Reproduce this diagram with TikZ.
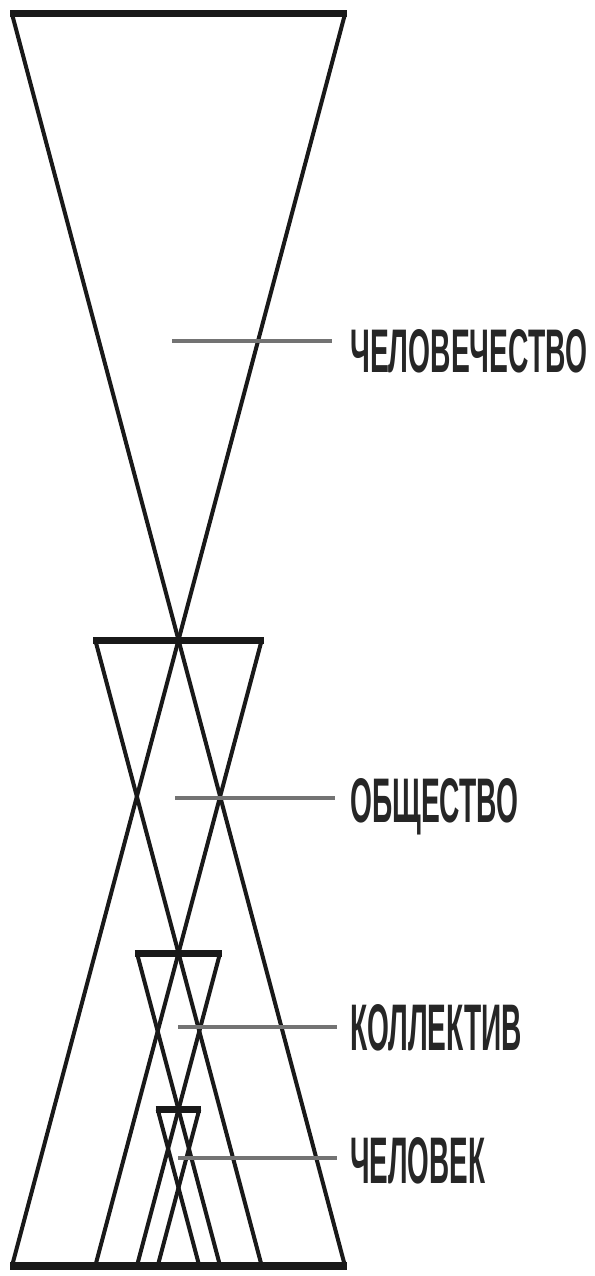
\documentclass[tikz,border=0pt]{standalone}
\usepackage{fontspec}
\setmainfont{Liberation Sans}
\begin{document}
\begin{tikzpicture}[x=1pt,y=-1pt,
  edge/.style={line width=4pt, black!90},
  bar/.style={line width=7pt, black!90, shorten <=-2pt, shorten >=-2pt},
  lead/.style={line width=3.5pt, black!55},
  lab/.style={anchor=base west, inner sep=0pt, text=black!85, font=\bfseries}]
\useasboundingbox (0,0) rectangle (594,1276);
\foreach \i/\t/\h in {1/14/166.5, 2/640/83.25, 3/953/41.6, 4/1109.5/20.8} {
  \coordinate (tl\i) at (178.5-\h,\t);
  \coordinate (tr\i) at (178.5+\h,\t);
  \coordinate (bl\i) at (178.5-\h,1266);
  \coordinate (br\i) at (178.5+\h,1266);
}
\foreach \i in {1,2,3,4} {
  \draw[edge] (tl\i) -- (br\i);
  \draw[edge] (tr\i) -- (bl\i);
  \draw[bar] (tl\i) -- (tr\i);
}
\draw[bar, line width=8pt] (bl1) -- (br1);
% labels
\node[lab] (humanity) at (350,372) {\resizebox{237pt}{43pt}{ЧЕЛОВЕЧЕСТВО}};
\node[lab] (society) at (350,822) {\resizebox{168pt}{44pt}{ОБЩЕСТВО}};
\node[lab] (collective) at (350,1050) {\resizebox{172pt}{46pt}{КОЛЛЕКТИВ}};
\node[lab] (person) at (350,1183) {\resizebox{135pt}{46pt}{ЧЕЛОВЕК}};
% leader lines
\coordinate (ls1) at (172,341);  \coordinate (le1) at (332,341);
\coordinate (ls2) at (175,798);  \coordinate (le2) at (335,798);
\coordinate (ls3) at (178,1027); \coordinate (le3) at (337,1027);
\coordinate (ls4) at (178,1158); \coordinate (le4) at (337,1158);
\foreach \i in {1,2,3,4} { \draw[lead] (ls\i) -- (le\i); }
\end{tikzpicture}
\end{document}
